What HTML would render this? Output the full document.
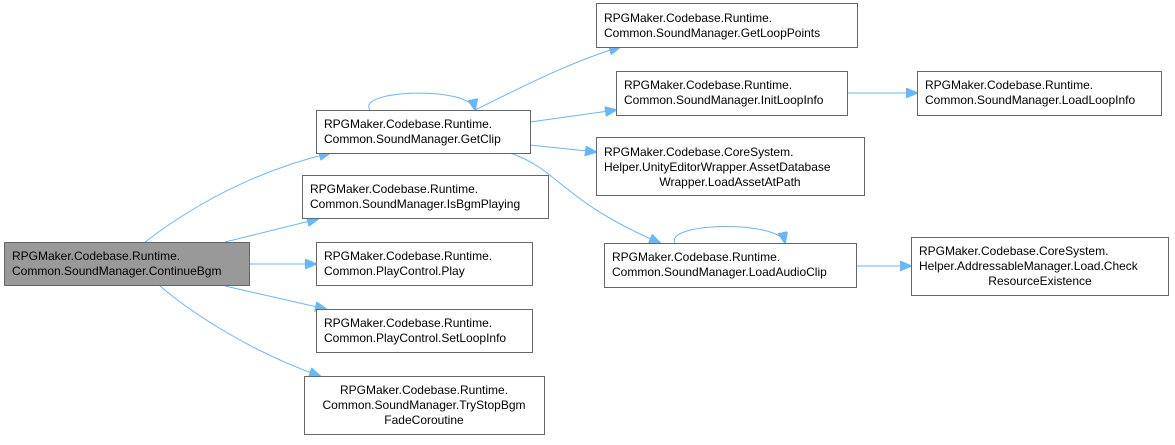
<!DOCTYPE html>
<html><head><meta charset="utf-8"><style>
body{margin:0;background:#fff;width:1175px;height:440px;overflow:hidden}
text{font-family:"Liberation Sans",Arial,sans-serif;font-size:12px;fill:#000}
.b{fill:#fff;stroke:#666;stroke-width:1}
.e{fill:none;stroke:#63b8ff;stroke-width:1}
.a{fill:#63b8ff;stroke:#63b8ff}
</style></head><body>
<svg width="1175" height="440" xmlns="http://www.w3.org/2000/svg">
<defs><marker id="m" markerWidth="12" markerHeight="10" refX="11" refY="5" orient="auto" markerUnits="userSpaceOnUse"><path d="M0,0 L12,5 L0,10 z" class="a"/></marker></defs>
<!-- edges -->
<path class="e" marker-end="url(#m)" d="M145,242 C200,200 260,170 330,153"/>
<path class="e" marker-end="url(#m)" d="M225,242 L318,219"/>
<path class="e" marker-end="url(#m)" d="M250,264 L316,264"/>
<path class="e" marker-end="url(#m)" d="M225,286 L326,309"/>
<path class="e" marker-end="url(#m)" d="M160,286 C200,320 260,355 320,376"/>
<path class="e" marker-end="url(#m)" d="M370,110 C355,90 470,85 475,110"/>
<path class="e" marker-end="url(#m)" d="M475,110 C520,88 570,62 620,47"/>
<path class="e" marker-end="url(#m)" d="M530,122 L616,110"/>
<path class="e" marker-end="url(#m)" d="M530,145 L596,152"/>
<path class="e" marker-end="url(#m)" d="M510,153 C560,170 560,200 660,243"/>
<path class="e" marker-end="url(#m)" d="M847,93 L917,93"/>
<path class="e" marker-end="url(#m)" d="M675,243 C665,222 780,220 785,243"/>
<path class="e" marker-end="url(#m)" d="M856,266 L911,266"/>
<!-- nodes -->
<rect x="4.5" y="242.5" width="245" height="43" fill="#999" stroke="#666"/>
<text x="12" y="260">RPGMaker.Codebase.Runtime.</text><text x="12" y="275">Common.SoundManager.ContinueBgm</text>

<rect class="b" x="316.5" y="110.5" width="214" height="43"/>
<text x="324" y="128">RPGMaker.Codebase.Runtime.</text><text x="324" y="143">Common.SoundManager.GetClip</text>

<rect class="b" x="302.5" y="175.5" width="246" height="43"/>
<text x="310" y="193">RPGMaker.Codebase.Runtime.</text><text x="310" y="208">Common.SoundManager.IsBgmPlaying</text>

<rect class="b" x="316.5" y="242.5" width="216" height="43"/>
<text x="324" y="260">RPGMaker.Codebase.Runtime.</text><text x="324" y="275">Common.PlayControl.Play</text>

<rect class="b" x="316.5" y="309.5" width="216" height="43"/>
<text x="324" y="327">RPGMaker.Codebase.Runtime.</text><text x="324" y="342">Common.PlayControl.SetLoopInfo</text>

<rect class="b" x="304.5" y="376.5" width="240" height="58"/>
<text x="424" y="394" text-anchor="middle">RPGMaker.Codebase.Runtime.</text><text x="424" y="409" text-anchor="middle">Common.SoundManager.TryStopBgm</text><text x="424" y="424" text-anchor="middle">FadeCoroutine</text>

<rect class="b" x="596.5" y="3.5" width="261" height="44"/>
<text x="604" y="22">RPGMaker.Codebase.Runtime.</text><text x="604" y="37">Common.SoundManager.GetLoopPoints</text>

<rect class="b" x="616.5" y="71.5" width="231" height="44"/>
<text x="624" y="89">RPGMaker.Codebase.Runtime.</text><text x="624" y="104">Common.SoundManager.InitLoopInfo</text>

<rect class="b" x="917.5" y="71.5" width="244" height="44"/>
<text x="925" y="89">RPGMaker.Codebase.Runtime.</text><text x="925" y="104">Common.SoundManager.LoadLoopInfo</text>

<rect class="b" x="596.5" y="137.5" width="268" height="58"/>
<text x="604" y="156">RPGMaker.Codebase.CoreSystem.</text><text x="604" y="171">Helper.UnityEditorWrapper.AssetDatabase</text><text x="730" y="186" text-anchor="middle">Wrapper.LoadAssetAtPath</text>

<rect class="b" x="604.5" y="243.5" width="252" height="44"/>
<text x="612" y="261">RPGMaker.Codebase.Runtime.</text><text x="612" y="276">Common.SoundManager.LoadAudioClip</text>

<rect class="b" x="911.5" y="237.5" width="257" height="58"/>
<text x="919" y="255">RPGMaker.Codebase.CoreSystem.</text><text x="919" y="270">Helper.AddressableManager.Load.Check</text><text x="1040" y="285" text-anchor="middle">ResourceExistence</text>
</svg>
</body></html>
